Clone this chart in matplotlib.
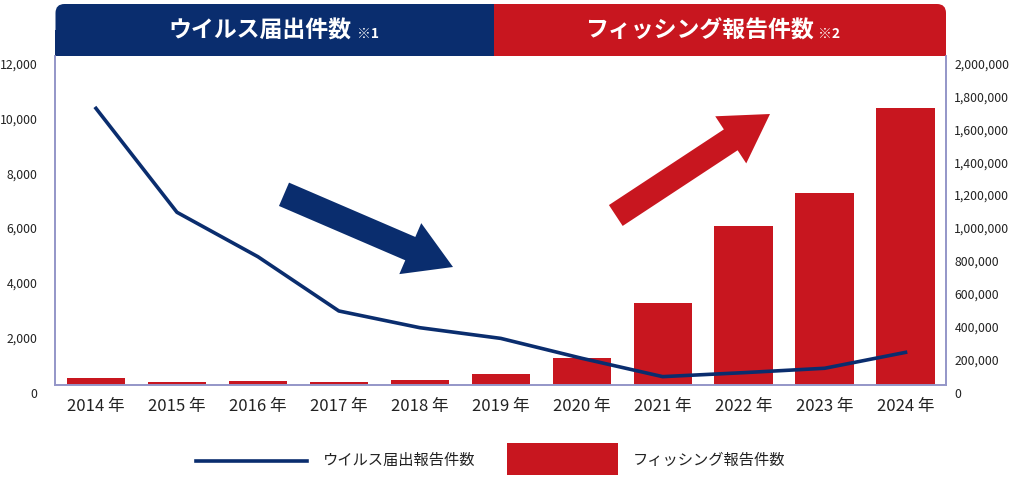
import matplotlib
matplotlib.use("Agg")
import matplotlib.pyplot as plt
import matplotlib.transforms as mtransforms
from matplotlib.patches import FancyBboxPatch, Rectangle, Polygon
from matplotlib.lines import Line2D
from matplotlib.ticker import FuncFormatter
import numpy as np

plt.rcParams["font.family"] = ["Noto Sans CJK JP", "DejaVu Sans"]

# data
years = ["2014 年", "2015 年", "2016 年", "2017 年", "2018 年", "2019 年",
         "2020 年", "2021 年", "2022 年", "2023 年", "2024 年"]
virus_reports = [10090, 6300, 4680, 2700, 2090, 1700, 975, 305, 450, 610, 1190]
phishing_reports = [40700, 16400, 22300, 16400, 30400, 64800,
                    166000, 498500, 966600, 1165300, 1683900]

left_ticks = [0, 2000, 4000, 6000, 8000, 10000, 12000]
right_ticks = [0, 200000, 400000, 600000, 800000, 1000000, 1200000,
               1400000, 1600000, 1800000, 2000000]

NAVY = "#0a2d6e"
RED = "#c8161f"
SPINE = "#9496c8"
TEXT = "#222222"

W, H = 1020, 480
fig = plt.figure(figsize=(W / 100, H / 100), dpi=100, facecolor="white")

# main plot area in pixels: x 55.5..946, y 56..385
ax_l = fig.add_axes([55.5 / W, 1 - 385 / H, (946 - 55.5) / W, (385 - 56) / H])
ax_r = ax_l.twinx()

x = np.arange(len(years))
ax_r.bar(x, phishing_reports, width=0.72, color=RED, zorder=2)
ax_l.plot(x, virus_reports, color=NAVY, linewidth=2.6, zorder=3)

# line on top of the bars
ax_l.set_zorder(ax_r.get_zorder() + 1)
ax_l.patch.set_visible(False)

ax_l.set_xlim(-0.5, len(years) - 0.5)
ax_l.set_ylim(0, 12000)
ax_r.set_ylim(0, 2000000)
ax_l.set_yticks(left_ticks)
ax_r.set_yticks(right_ticks)
ax_l.set_xticks(x)
ax_l.set_xticklabels(years)
comma = FuncFormatter(lambda v, _: f"{int(v):,}")
ax_l.yaxis.set_major_formatter(comma)
ax_r.yaxis.set_major_formatter(comma)

for ax in (ax_l, ax_r):
    ax.spines["top"].set_visible(False)
    for side in ("left", "right", "bottom"):
        ax.spines[side].set_color(SPINE)
        ax.spines[side].set_linewidth(1.2)
    ax.tick_params(axis="y", length=0, labelsize=8.8, colors=TEXT)
ax_l.tick_params(axis="y", pad=13)
ax_r.tick_params(axis="y", pad=6)
ax_l.tick_params(axis="x", length=0, labelsize=12, pad=9, colors=TEXT)

# tick labels sit a little below their gridline positions in the original
shift = mtransforms.ScaledTranslation(0, -7.5 / 100, fig.dpi_scale_trans)
for lab in ax_l.get_yticklabels() + ax_r.get_yticklabels():
    lab.set_transform(lab.get_transform() + shift)

# overlay in pixel coordinates for header, arrows and legend
ov = fig.add_axes([0, 0, 1, 1])
ov.set_xlim(0, W)
ov.set_ylim(H, 0)
ov.axis("off")

# header bands with rounded top corners
ov.add_patch(FancyBboxPatch((480, 4), 466, 50, boxstyle="round,pad=0,rounding_size=9",
                            fc=RED, ec="none"))
ov.add_patch(FancyBboxPatch((55.5, 4), 460, 50, boxstyle="round,pad=0,rounding_size=9",
                            fc=NAVY, ec="none"))
ov.add_patch(Rectangle((494, 4), 40, 50, fc=RED, ec="none"))
ov.add_patch(Rectangle((55.5, 30), 438.5, 26, fc=NAVY, ec="none"))
ov.add_patch(Rectangle((494, 30), 452, 26, fc=RED, ec="none"))

ov.text(259.7, 31, "ウイルス届出件数", color="white", fontsize=16.5,
        fontweight="bold", ha="center", va="center")
ov.text(357, 38, "※1", color="white", fontsize=10, fontweight="bold",
        ha="left", va="baseline")
ov.text(699.5, 31, "フィッシング報告件数", color="white", fontsize=16.5,
        fontweight="bold", ha="center", va="center")
ov.text(818, 38, "※2", color="white", fontsize=10, fontweight="bold",
        ha="left", va="baseline")


def arrow_poly(start, tip, shaft_w, head_w, head_len):
    start = np.asarray(start, float)
    tip = np.asarray(tip, float)
    d = tip - start
    d /= np.hypot(*d)
    n = np.array([-d[1], d[0]])
    base = tip - d * head_len
    return [start + n * shaft_w / 2, base + n * shaft_w / 2, base + n * head_w / 2,
            tip, base - n * head_w / 2, base - n * shaft_w / 2, start - n * shaft_w / 2]


ov.add_patch(Polygon(arrow_poly((284, 194.3), (453, 267), 25.4, 55.5, 46.5),
                     closed=True, fc=NAVY, ec="none"))
ov.add_patch(Polygon(arrow_poly((615.8, 215.5), (770, 114), 25, 56.4, 47),
                     closed=True, fc=RED, ec="none"))

# legend
ov.add_line(Line2D([196, 307], [460.5, 460.5], color=NAVY, linewidth=2.6))
ov.text(323, 460, "ウイルス届出報告件数", fontsize=11, color=TEXT,
        ha="left", va="center")
ov.add_patch(Rectangle((507, 443), 111, 32, fc=RED, ec="none"))
ov.text(633, 460, "フィッシング報告件数", fontsize=11, color=TEXT,
        ha="left", va="center")

fig.savefig("out.png", dpi=100, facecolor="white")
